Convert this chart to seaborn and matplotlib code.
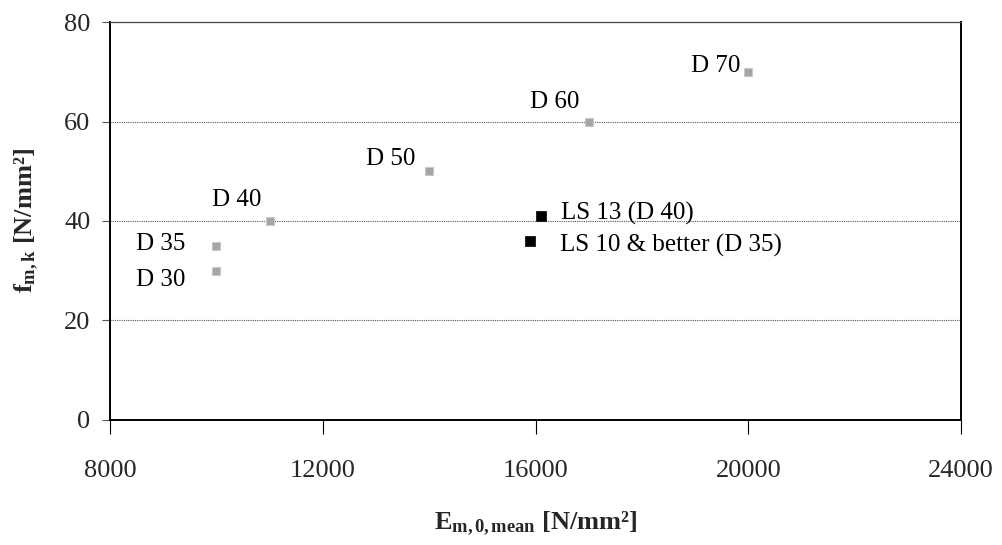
import matplotlib
matplotlib.use("Agg")
import matplotlib.pyplot as plt
import seaborn as sns
import pandas as pd

# Data
grades = ["D 30", "D 35", "D 40", "D 50", "D 60", "D 70"]
grade_E = [10000, 10000, 11000, 14000, 17000, 20000]
grade_f = [30, 35, 40, 50, 60, 70]

ls_names = ["LS 13 (D 40)", "LS 10 & better (D 35)"]
ls_E = [16100, 15900]
ls_f = [41, 36]

x_ticks = [8000, 12000, 16000, 20000, 24000]
y_ticks = [0, 20, 40, 60, 80]

sns.set_theme(style="white")
plt.rcParams["font.family"] = ["Liberation Serif", "DejaVu Serif"]
plt.rcParams["mathtext.fontset"] = "custom"
plt.rcParams["mathtext.rm"] = "Liberation Serif"
plt.rcParams["mathtext.bf"] = "Liberation Serif:bold"
plt.rcParams["mathtext.it"] = "Liberation Serif:italic"

fig = plt.figure(figsize=(10.03, 5.45), dpi=100)
ax = fig.add_axes([0.1097, 0.2294, 0.8485, 0.7302])

df_g = pd.DataFrame({"E": grade_E, "f": grade_f, "name": grades})
df_l = pd.DataFrame({"E": ls_E, "f": ls_f, "name": ls_names})

sns.scatterplot(data=df_g, x="E", y="f", ax=ax, marker="s", s=28,
                color="#a5a5a5", edgecolor="#c9c9c9", linewidth=0.8, zorder=3)
sns.scatterplot(data=df_l, x="E", y="f", ax=ax, marker="s", s=60,
                color="black", edgecolor="black", linewidth=0.5, zorder=3)

grade_offsets = [(-31, -9), (-31, 2), (-8, 21), (-14, 12), (-9, 20), (-8, 6)]
for name, e, f, (dx, dy) in zip(grades, grade_E, grade_f, grade_offsets):
    ax.annotate(name, (e, f), xytext=(dx, dy), textcoords="offset pixels",
                ha="right", va="center", fontsize=18, color="black")

ls_offsets = [(20, 3), (30, -5)]
for name, e, f, (dx, dy) in zip(ls_names, ls_E, ls_f, ls_offsets):
    ax.annotate(name, (e, f), xytext=(dx, dy), textcoords="offset pixels",
                ha="left", va="center", fontsize=18, color="black")

ax.set_xlim(8000, 24000)
ax.set_ylim(0, 80)
ax.set_xticks(x_ticks)
ax.set_yticks(y_ticks)
ax.set_xticklabels([str(t) for t in x_ticks])
ax.set_yticklabels([str(t) for t in y_ticks])

ax.yaxis.grid(True, color="#555555", linestyle=(0, (1, 1)), linewidth=0.8)
ax.xaxis.grid(False)
ax.set_axisbelow(True)

for side in ["left", "bottom", "right"]:
    ax.spines[side].set_visible(True)
    ax.spines[side].set_color("black")
    ax.spines[side].set_linewidth(1.4)
ax.spines["top"].set_visible(True)
ax.spines["top"].set_color("#444444")
ax.spines["top"].set_linewidth(0.9)

ax.tick_params(axis="x", direction="out", length=10, width=0.8, color="black",
               pad=19, labelsize=19, bottom=True)
ax.tick_params(axis="y", direction="out", length=6, width=0.8, color="#555555",
               pad=8, labelsize=19, left=True)

ax.set_xlabel(r"$\mathbf{E}_{\mathbf{m,0,mean}}$ [N/mm²]", fontsize=19,
              fontweight="bold")
ax.set_ylabel(r"$\mathbf{f}_{\mathbf{m,k}}$ [N/mm²]", fontsize=19,
              fontweight="bold")
ax.xaxis.set_label_coords(0.5, -0.225)
ax.yaxis.set_label_coords(-0.081, 0.5)

fig.savefig("out.png", dpi=100, facecolor="white")
